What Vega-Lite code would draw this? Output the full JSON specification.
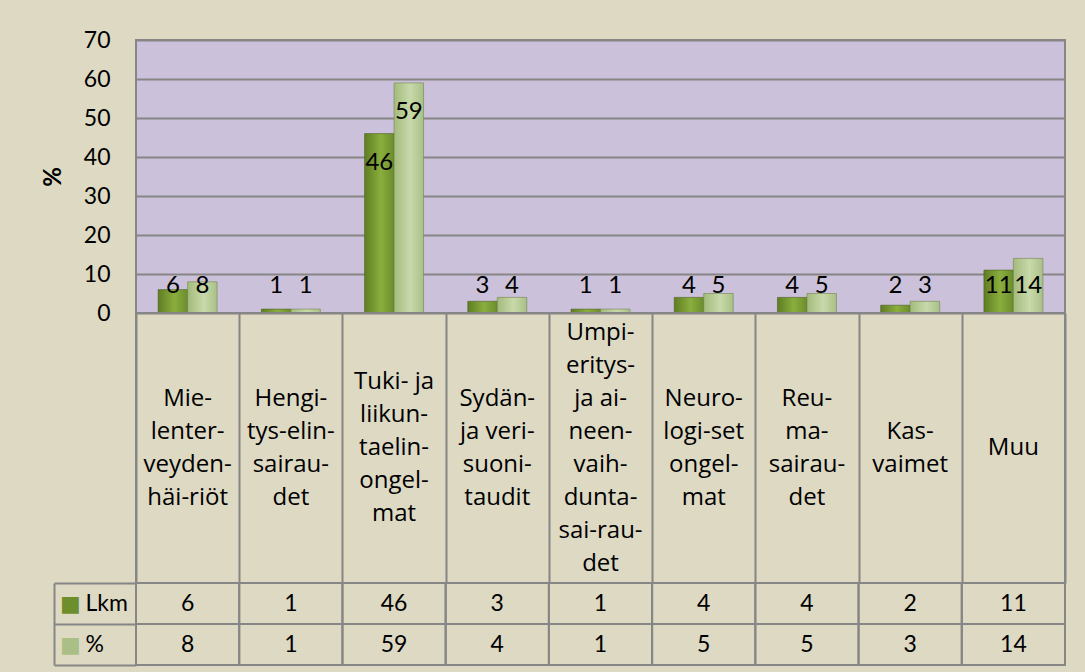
{
  "$schema": "https://vega.github.io/schema/vega-lite/v6.json",
  "background": "#DDD9C3",
  "padding": {"left": 40, "top": 28, "right": 30, "bottom": 20},
  "spacing": 0,
  "bounds": "flush",
  "config": {
    "font": "Lato",
    "concat": {"spacing": 0},
    "text": {"font": "Lato", "fontSize": 23, "color": "#000000"}
  },
  "datasets": {
    "bars": [
      {"cat": "Mielenterveydenhäiriöt", "series": "Lkm", "value": 6},
      {"cat": "Mielenterveydenhäiriöt", "series": "%", "value": 8},
      {"cat": "Hengityselinsairaudet", "series": "Lkm", "value": 1},
      {"cat": "Hengityselinsairaudet", "series": "%", "value": 1},
      {"cat": "Tuki- ja liikuntaelinongelmat", "series": "Lkm", "value": 46},
      {"cat": "Tuki- ja liikuntaelinongelmat", "series": "%", "value": 59},
      {"cat": "Sydän- ja verisuonitaudit", "series": "Lkm", "value": 3},
      {"cat": "Sydän- ja verisuonitaudit", "series": "%", "value": 4},
      {"cat": "Umpieritys- ja aineenvaihduntasairaudet", "series": "Lkm", "value": 1},
      {"cat": "Umpieritys- ja aineenvaihduntasairaudet", "series": "%", "value": 1},
      {"cat": "Neurologiset ongelmat", "series": "Lkm", "value": 4},
      {"cat": "Neurologiset ongelmat", "series": "%", "value": 5},
      {"cat": "Reumasairaudet", "series": "Lkm", "value": 4},
      {"cat": "Reumasairaudet", "series": "%", "value": 5},
      {"cat": "Kasvaimet", "series": "Lkm", "value": 2},
      {"cat": "Kasvaimet", "series": "%", "value": 3},
      {"cat": "Muu", "series": "Lkm", "value": 11},
      {"cat": "Muu", "series": "%", "value": 14}
    ],
    "cats": [
      {"cat": "Mielenterveydenhäiriöt", "label": ["Mie-", "lenter-", "veyden-", "häi-riöt"]},
      {"cat": "Hengityselinsairaudet", "label": ["Hengi-", "tys-elin-", "sairau-", "det"]},
      {"cat": "Tuki- ja liikuntaelinongelmat", "label": ["Tuki- ja", "liikun-", "taelin-", "ongel-", "mat"]},
      {"cat": "Sydän- ja verisuonitaudit", "label": ["Sydän-", "ja veri-", "suoni-", "taudit"]},
      {"cat": "Umpieritys- ja aineenvaihduntasairaudet", "label": ["Umpi-", "eritys-", "ja ai-", "neen-", "vaih-", "dunta-", "sai-rau-", "det"]},
      {"cat": "Neurologiset ongelmat", "label": ["Neuro-", "logi-set", "ongel-", "mat"]},
      {"cat": "Reumasairaudet", "label": ["Reu-", "ma-", "sairau-", "det"]},
      {"cat": "Kasvaimet", "label": ["Kas-", "vaimet"]},
      {"cat": "Muu", "label": ["Muu"]}
    ]
  },
  "vconcat": [
    {
      "width": 929,
      "height": 273,
      "view": {"fill": "#CCC1DA", "stroke": "#868686", "strokeWidth": 2},
      "data": {"name": "bars"},
      "encoding": {
        "x": {
          "field": "cat", "type": "nominal",
          "sort": ["Mielenterveydenhäiriöt", "Hengityselinsairaudet", "Tuki- ja liikuntaelinongelmat", "Sydän- ja verisuonitaudit", "Umpieritys- ja aineenvaihduntasairaudet", "Neurologiset ongelmat", "Reumasairaudet", "Kasvaimet", "Muu"],
          "scale": {"paddingInner": 0, "paddingOuter": 0},
          "axis": null
        },
        "xOffset": {
          "field": "series", "type": "nominal", "sort": ["Lkm", "%"],
          "scale": {"paddingInner": 0, "paddingOuter": 0.75}
        },
        "y": {
          "field": "value", "type": "quantitative",
          "scale": {"domain": [0, 70], "nice": false},
          "axis": {
            "values": [0, 10, 20, 30, 40, 50, 60, 70],
            "grid": true, "gridColor": "#868686", "gridWidth": 2,
            "ticks": false, "domain": false,
            "labelFont": "Lato", "labelFontSize": 23, "labelColor": "#000000", "labelPadding": 26,
            "title": "%", "titleFont": "Lato", "titleFontSize": 24, "titleFontWeight": "bold", "titleColor": "#000000", "titlePadding": 18
          }
        }
      },
      "layer": [
        {
          "transform": [{"filter": "datum.series === 'Lkm'"}],
          "mark": {
            "type": "bar",
            "fill": {"gradient": "linear", "x1": 0, "x2": 1, "y1": 0, "y2": 0,
              "stops": [{"offset": 0, "color": "#5F7D22"}, {"offset": 0.55, "color": "#8AAE3E"}, {"offset": 1, "color": "#6C8D2B"}]},
            "stroke": "#4F6228", "strokeWidth": 0.6
          }
        },
        {
          "transform": [{"filter": "datum.series === '%'"}],
          "mark": {
            "type": "bar",
            "fill": {"gradient": "linear", "x1": 0, "x2": 1, "y1": 0, "y2": 0,
              "stops": [{"offset": 0, "color": "#A3BB7C"}, {"offset": 0.55, "color": "#C8D9AA"}, {"offset": 1, "color": "#A9C087"}]},
            "stroke": "#6F8549", "strokeWidth": 0.6
          }
        },
        {
          "transform": [{"filter": "datum.value >= 20"}],
          "mark": {"type": "text", "baseline": "middle", "dy": 29, "fontSize": 24},
          "encoding": {"text": {"field": "value", "type": "quantitative"}}
        },
        {
          "transform": [{"filter": "datum.value < 20"}],
          "mark": {"type": "text", "baseline": "middle", "fontSize": 24},
          "encoding": {
            "y": {"datum": 7, "type": "quantitative"},
            "text": {"field": "value", "type": "quantitative"}
          }
        }
      ]
    },
    {
      "width": 929,
      "height": 270,
      "view": {"stroke": "#868686", "strokeWidth": 2, "fill": null},
      "data": {"name": "cats"},
      "mark": {"type": "text", "font": "Open Sans", "fontSize": 24, "lineHeight": 33, "baseline": "middle", "align": "center", "dy": {"expr": "-(length(datum.label) - 1) * 16.5"}},
      "encoding": {
        "x": {
          "field": "cat", "type": "nominal",
          "sort": ["Mielenterveydenhäiriöt", "Hengityselinsairaudet", "Tuki- ja liikuntaelinongelmat", "Sydän- ja verisuonitaudit", "Umpieritys- ja aineenvaihduntasairaudet", "Neurologiset ongelmat", "Reumasairaudet", "Kasvaimet", "Muu"],
          "scale": {"paddingInner": 0, "paddingOuter": 0},
          "axis": {"grid": true, "tickBand": "extent", "gridColor": "#868686", "gridWidth": 2, "labels": false, "ticks": false, "domain": false, "title": null}
        },
        "text": {"field": "label"}
      }
    },
    {
      "width": 929,
      "height": 82,
      "view": {"stroke": "#868686", "strokeWidth": 2, "fill": null},
      "data": {"name": "bars"},
      "layer": [
        {
          "mark": {"type": "rect", "fillOpacity": 0, "stroke": "#868686", "strokeWidth": 2},
          "encoding": {
            "x": {
              "field": "cat", "type": "nominal",
              "sort": ["Mielenterveydenhäiriöt", "Hengityselinsairaudet", "Tuki- ja liikuntaelinongelmat", "Sydän- ja verisuonitaudit", "Umpieritys- ja aineenvaihduntasairaudet", "Neurologiset ongelmat", "Reumasairaudet", "Kasvaimet", "Muu"],
              "scale": {"paddingInner": 0, "paddingOuter": 0},
              "axis": null
            },
            "y": {
              "field": "series", "type": "nominal", "sort": ["Lkm", "%"],
              "scale": {"paddingInner": 0, "paddingOuter": 0},
              "axis": {
                "orient": "left", "offset": 82, "title": null,
                "domain": true, "domainColor": "#868686", "domainWidth": 2,
                "ticks": true, "tickSize": -82, "tickBand": "extent", "tickColor": "#868686", "tickWidth": 2,
                "labelAlign": "left", "labelPadding": 51, "labelFont": "Lato", "labelFontSize": 23, "labelColor": "#000000"
              }
            }
          }
        },
        {
          "mark": {"type": "text", "fontSize": 23, "baseline": "middle"},
          "encoding": {
            "x": {
              "field": "cat", "type": "nominal",
              "sort": ["Mielenterveydenhäiriöt", "Hengityselinsairaudet", "Tuki- ja liikuntaelinongelmat", "Sydän- ja verisuonitaudit", "Umpieritys- ja aineenvaihduntasairaudet", "Neurologiset ongelmat", "Reumasairaudet", "Kasvaimet", "Muu"],
              "axis": null
            },
            "y": {"field": "series", "type": "nominal", "sort": ["Lkm", "%"], "axis": null},
            "text": {"field": "value", "type": "quantitative"}
          }
        },
        {
          "mark": {"type": "rect", "opacity": 0},
          "encoding": {
            "x": {
              "field": "cat", "type": "nominal",
              "sort": ["Mielenterveydenhäiriöt", "Hengityselinsairaudet", "Tuki- ja liikuntaelinongelmat", "Sydän- ja verisuonitaudit", "Umpieritys- ja aineenvaihduntasairaudet", "Neurologiset ongelmat", "Reumasairaudet", "Kasvaimet", "Muu"],
              "axis": null
            },
            "y": {
              "field": "series", "type": "nominal", "sort": ["Lkm", "%"],
              "axis": {
                "orient": "left", "offset": 82, "title": null,
                "domain": false, "ticks": false, "grid": false,
                "labelExpr": "'■'", "labelAlign": "center", "labelPadding": -16,
                "labelFont": "DejaVu Sans", "labelFontSize": 22,
                "labelColor": {"condition": {"test": "datum.value === 'Lkm'", "value": "#6E8E2C"}, "value": "#A9BF86"}
              }
            }
          }
        }
      ],
      "resolve": {"axis": {"y": "independent"}}
    }
  ]
}
